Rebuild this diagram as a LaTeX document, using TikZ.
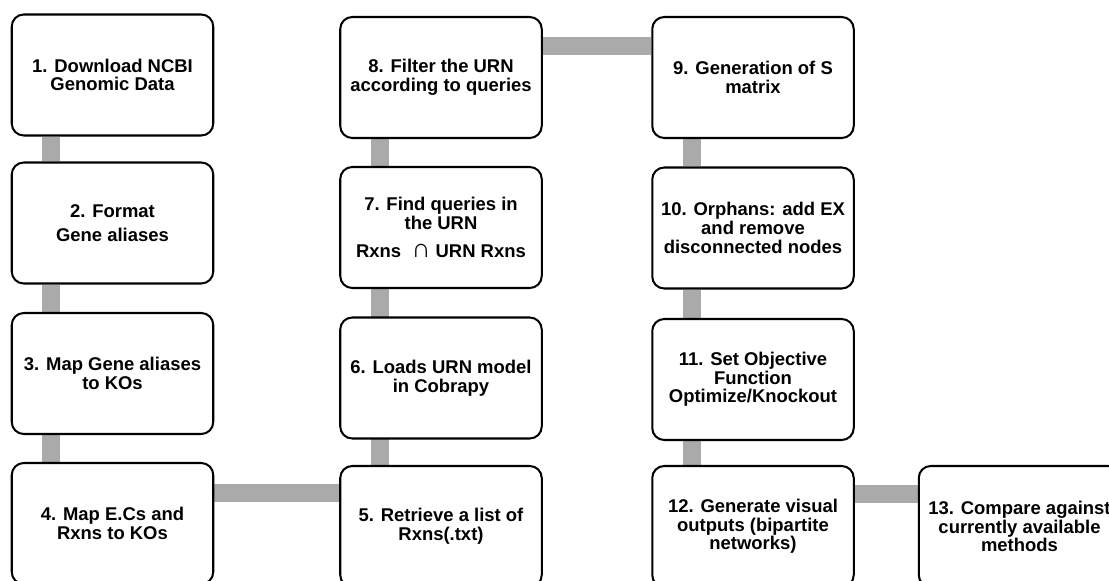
\documentclass[tikz,border=0pt]{standalone}
\usepackage{fontspec}
\setmainfont{Liberation Sans}
\usepackage{tikz}
\usetikzlibrary{backgrounds}

\definecolor{linkgray}{RGB}{170,170,170}

\begin{document}
\begin{tikzpicture}[
		stepbox/.style={draw=black, line width=1.15pt, fill=white, rounded corners=0.24cm,
			minimum width=4.03cm, minimum height=2.42cm, align=center,
			font=\fontsize{10.5}{10.6}\selectfont\bfseries},
		link/.style={draw=linkgray, line width=0.36cm}
	]
				\useasboundingbox (0, 0) rectangle (22.18, 11.6);
				\clip (0, 0) rectangle (22.18, 11.6);
				% Steps, column by column:
				\node[stepbox] (S1) at (2.25, 10.1) {1. Download NCBI\\Genomic Data};
				\node[stepbox] (S2) at (2.25, 7.14) {2. Format\\[3.4pt]Gene aliases};
				\node[stepbox] (S3) at (2.25, 4.13) {3. Map Gene aliases\\to KOs};
				\node[stepbox] (S4) at (2.25, 1.13) {4. Map E.Cs and\\Rxns to KOs};
				\node[stepbox] (S5) at (8.82, 1.07) {5. Retrieve a list of\\Rxns(.txt)};
				\node[stepbox] (S6) at (8.82, 4.04) {6. Loads URN model\\in Cobrapy};
				\node[stepbox] (S7) at (8.82, 7.05) {7. Find queries in\\the URN\\[5.6pt]Rxns\ \ {\fontsize{15}{15}\selectfont ∩} URN Rxns};
				\node[stepbox] (S8) at (8.82, 10.05) {8. Filter the URN\\according to queries};
				\node[stepbox] (S9) at (15.06, 10.05) {9. Generation of S\\matrix};
				\node[stepbox] (S10) at (15.06, 7.04) {10. Orphans: add EX\\and remove\\disconnected nodes};
				\node[stepbox] (S11) at (15.06, 4.01) {11. Set Objective\\Function\\Optimize/Knockout};
				\node[stepbox] (S12) at (15.06, 1.07) {12. Generate visual\\outputs (bipartite\\networks)};
				\node[stepbox] (S13) at (20.39, 1.07) {13. Compare against\\currently available\\methods};
				% Grey bars, kept behind the boxes:
				\coordinate (J45) at ([yshift=-0.57cm]S5.north west);
				\coordinate (J89) at ([yshift=-0.6cm]S8.north east);
				\coordinate (J1213) at ([yshift=-0.58cm]S12.north east);
				\begin{pgfonlayer}{background}
				\foreach \a/\b in {S1/S2, S2/S3, S3/S4, S5/S6, S6/S7, S7/S8, S9/S10, S10/S11, S11/S12}
					\draw[link] ([xshift=0.81cm]\a.south west) -- ([xshift=0.81cm]\b.north west);
				\draw[link] (S4.east |- J45) -- (J45);
				\draw[link] (J89) -- (S9.west |- J89);
				\draw[link] (J1213) -- (S13.west |- J1213);
				\end{pgfonlayer}
\end{tikzpicture}
\end{document}
